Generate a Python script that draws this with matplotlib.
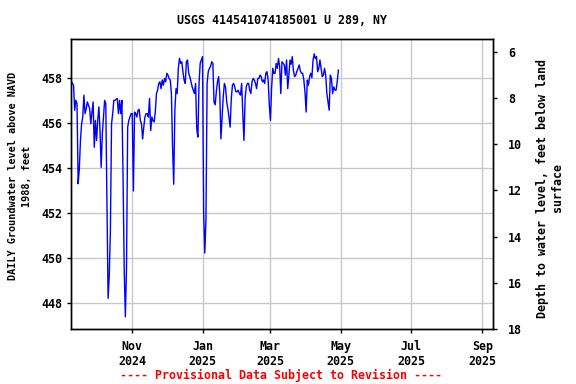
import matplotlib
matplotlib.use("Agg")
import matplotlib.pyplot as plt
import pandas as pd

# daily groundwater levels (ft above NAVD 1988), starting 2024-09-09
START = "2024-09-09"
LEVELS = [
    457.85, 457.75, 457.67, 456.56, 457.00, 456.86, 453.30, 453.95, 455.22, 455.96,
    456.26, 457.23, 456.41, 456.63, 456.93, 456.78, 456.63, 455.96, 456.48, 456.93,
    454.92, 456.11, 455.22, 456.11, 456.71, 455.66, 454.03, 455.52, 456.26, 457.00,
    456.86, 452.54, 448.22, 449.19, 451.20, 455.96, 456.41, 457.00, 457.00, 457.05,
    457.08, 456.41, 457.00, 456.41, 457.00, 453.60, 449.50, 447.40, 449.56, 455.80,
    456.11, 456.26, 456.41, 456.41, 452.98, 456.48, 456.41, 456.26, 456.56, 456.60,
    456.11, 455.96, 455.29, 455.81, 456.26, 456.41, 456.41, 456.26, 457.08, 455.66,
    456.26, 456.10, 456.04, 456.48, 457.30, 457.45, 457.75, 457.82, 457.52, 457.90,
    457.67, 457.97, 457.82, 458.20, 458.12, 457.97, 457.90, 457.30, 454.92, 453.28,
    456.56, 457.52, 457.30, 458.42, 458.86, 458.64, 458.71, 458.27, 457.90, 457.75,
    458.71, 458.79, 458.20, 458.05, 457.82, 457.60, 457.45, 457.30, 457.75, 455.74,
    455.37, 457.75, 458.64, 458.79, 458.94, 452.00, 450.23, 451.72, 457.75, 458.27,
    458.42, 458.50, 458.71, 458.64, 456.93, 456.80, 457.38, 457.82, 458.05, 457.30,
    455.29, 456.20, 457.15, 457.75, 457.60, 456.93, 456.63, 456.26, 455.81, 457.08,
    457.67, 457.75, 457.60, 457.38, 457.38, 457.45, 457.30, 457.23, 457.75, 456.41,
    455.22, 457.08, 457.60, 457.75, 457.75, 457.45, 457.30, 457.82, 457.97, 457.90,
    457.75, 457.52, 457.97, 457.97, 458.12, 458.05, 457.82, 457.90, 457.75, 458.20,
    458.27, 457.90, 456.80, 456.11, 457.52, 458.42, 458.20, 458.20, 458.64, 458.42,
    458.86, 458.50, 457.30, 458.71, 458.64, 458.57, 458.12, 458.79, 457.52, 458.12,
    458.79, 458.60, 458.94, 458.30, 458.05, 458.12, 458.30, 458.42, 458.57, 458.30,
    458.20, 458.20, 457.90, 457.38, 456.48, 457.90, 457.67, 458.05, 458.20, 458.00,
    458.79, 459.06, 458.85, 458.94, 458.27, 458.42, 458.79, 458.42, 458.05, 458.12,
    458.42, 458.12, 457.30, 456.93, 456.56, 458.12, 457.97, 457.30, 457.60, 457.45,
    457.45, 457.82, 458.34,
]

LEFT_TICKS = [448, 450, 452, 454, 456, 458]
RIGHT_TICKS = [6, 8, 10, 12, 14, 16, 18]
MONTH_TICKS = ["2024-11-01", "2025-01-01", "2025-03-01", "2025-05-01", "2025-07-01", "2025-09-01"]
MONTH_LABELS = ["Nov\n2024", "Jan\n2025", "Mar\n2025", "May\n2025", "Jul\n2025", "Sep\n2025"]

FONT = "DejaVu Sans Mono"
FS = 8.4

dates = pd.date_range(START, periods=len(LEVELS), freq="D")

fig = plt.figure(figsize=(5.76, 3.84), dpi=100)
ax = fig.add_axes([71 / 576, 1 - 329 / 384, (493 - 71) / 576, (329 - 39) / 384])

ax.plot(dates, LEVELS, color="#0000ff", lw=1.0)

ax.set_xlim(pd.Timestamp("2024-09-08 19:00"), pd.Timestamp("2025-09-10 07:00"))
ax.set_ylim(446.86, 459.72)
ax.set_yticks(LEFT_TICKS)
ax.set_xticks(pd.to_datetime(MONTH_TICKS))
ax.set_xticklabels(MONTH_LABELS)
ax.grid(True, color="#c8c8c8", lw=1)
ax.set_axisbelow(True)

ax2 = ax.twinx()
ax2.set_ylim(17.96, 5.44)
ax2.set_yticks(RIGHT_TICKS)

for a in (ax, ax2):
    for s in a.spines.values():
        s.set_color("black")
        s.set_linewidth(1)
    for lab in a.get_xticklabels() + a.get_yticklabels():
        lab.set_fontfamily(FONT)
        lab.set_fontweight("bold")
        lab.set_fontsize(FS)

ax.tick_params(axis="y", direction="out", length=3, width=1, pad=3.5)
ax.tick_params(axis="x", direction="out", length=3, width=1, pad=5)
ax2.tick_params(axis="y", direction="out", length=3, width=1, pad=8)

fig.text(282 / 576, 1 - 20 / 384, "USGS 414541074185001 U 289, NY",
         ha="center", va="center", fontfamily=FONT, fontweight="bold", fontsize=FS)
fig.text(20 / 576, 1 - 176 / 384, "DAILY Groundwater level above NAVD\n1988, feet",
         rotation=90, ha="center", va="center", multialignment="center",
         fontfamily=FONT, fontweight="bold", fontsize=7.3, linespacing=1.45)
fig.text(550 / 576, 1 - 188 / 384, "Depth to water level, feet below land\nsurface",
         rotation=90, ha="center", va="center", multialignment="center",
         fontfamily=FONT, fontweight="bold", fontsize=FS, linespacing=1.2)
fig.text(281 / 576, 1 - 375 / 384, "---- Provisional Data Subject to Revision ----",
         ha="center", va="center", color="red",
         fontfamily=FONT, fontweight="bold", fontsize=FS)

fig.savefig("out.png", dpi=100, facecolor="white")
